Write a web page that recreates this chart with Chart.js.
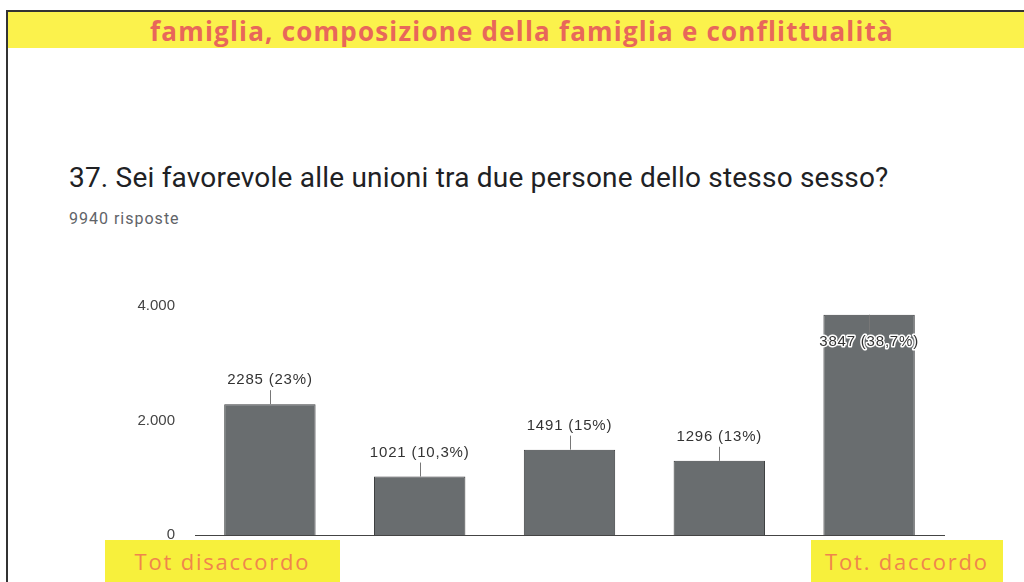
<!DOCTYPE html>
<html lang="it">
<head>
<meta charset="UTF-8">
<title>37. Sei favorevole alle unioni tra due persone dello stesso sesso?</title>
<script src="https://cdn.jsdelivr.net/npm/chart.js"></script>
<style>
    html, body {
        margin: 0;
        padding: 0;
        background: #fff;
        width: 1024px;
        height: 582px;
        overflow: hidden;
        position: relative;
        font-family: Roboto, Arial, sans-serif;
    }
    .frame {
        position: absolute;
        left: 6px;
        top: 10px;
        right: -2px;
        bottom: -2px;
        border-left: 2px solid #333;
        border-top: 2px solid #333;
    }
    .banner {
        position: absolute;
        left: 8px;
        top: 12px;
        width: 1016px;
        height: 36px;
        background: #fbf24c;
        text-align: center;
        white-space: nowrap;
    }
    .banner span {
        display: inline-block;
        font-family: "Open Sans", sans-serif;
        font-weight: bold;
        font-size: 26px;
        line-height: 38px;
        color: #e8675a;
        margin-left: 12px;
        letter-spacing: 1.2px;
    }
    h1 {
        position: absolute;
        left: 69px;
        top: 164px;
        margin: 0;
        font-weight: normal;
        font-size: 28px;
        line-height: 28px;
        letter-spacing: 0.2px;
        color: #202124;
        white-space: nowrap;
    }
    .sub {
        position: absolute;
        left: 69px;
        top: 211px;
        font-size: 16px;
        line-height: 16px;
        letter-spacing: 1px;
        color: #5f6368;
    }
    .tag {
        position: absolute;
        top: 540px;
        height: 42px;
        background: #f7f03c;
        color: #f0854c;
        font-family: "Open Sans", sans-serif;
        font-size: 22px;
        letter-spacing: 1.8px;
        line-height: 42px;
        text-align: center;
        white-space: nowrap;
    }
    #chart {
        position: absolute;
        left: 100px;
        top: 276px;
    }
</style>
</head>
<body>
<div class="frame"></div>
<div class="banner"><span>famiglia, composizione della famiglia e conflittualità</span></div>
<h1>37. Sei favorevole alle unioni tra due persone dello stesso sesso?</h1>
<div class="sub">9940 risposte</div>
<canvas id="chart" width="860" height="290"></canvas>
<div class="tag" style="left:105px;width:235px;">Tot disaccordo</div>
<div class="tag" style="left:811px;width:192px;">Tot. daccordo</div>

<script>
    const categories = ['1', '2', '3', '4', '5'];
    const values = [2285, 1021, 1491, 1296, 3847];
    const valueLabels = ['2285 (23%)', '1021 (10,3%)', '1491 (15%)', '1296 (13%)', '3847 (38,7%)'];
    const tickValues = [0, 2000, 4000];
    const tickLabels = ['0', '2.000', '4.000'];

    // etichette sopra le barre con la lineetta
    const barLabels = {
        id: 'barLabels',
        afterDatasetsDraw(chart) {
            const ctx = chart.ctx;
            const meta = chart.getDatasetMeta(0);
            ctx.save();
            ctx.font = '15px Arial, "Liberation Sans", sans-serif';
            ctx.letterSpacing = '0.8px';
            ctx.textAlign = 'center';
            ctx.textBaseline = 'middle';
            meta.data.forEach((bar, i) => {
                const x = bar.x;
                const top = bar.y;
                const inside = top - chart.chartArea.top < 40;
                let ty, l1, l2;
                if (inside) {
                    ty = top + 27;
                    l1 = top;
                    l2 = top + 18;
                } else {
                    ty = top - 24;
                    l1 = top - 14;
                    l2 = top;
                }
                ctx.strokeStyle = '#777';
                ctx.lineWidth = 1;
                ctx.beginPath();
                ctx.moveTo(Math.round(x) + 0.5, l1);
                ctx.lineTo(Math.round(x) + 0.5, l2);
                ctx.stroke();
                if (inside) {
                    ctx.strokeStyle = '#fff';
                    ctx.lineWidth = 3;
                    ctx.lineJoin = 'round';
                    ctx.strokeText(valueLabels[i], x, ty);
                }
                ctx.fillStyle = '#333';
                ctx.fillText(valueLabels[i], x, ty);
            });
            ctx.restore();
        }
    };

    new Chart(document.getElementById('chart'), {
        type: 'bar',
        data: {
            labels: categories,
            datasets: [{
                data: values,
                backgroundColor: '#696d6f',
                borderColor: '#3d3f40',
                borderWidth: 1,
                categoryPercentage: 1,
                barPercentage: 0.61
            }]
        },
        options: {
            responsive: false,
            animation: false,
            layout: { padding: { top: 30, right: 16, bottom: 31, left: 0 } },
            plugins: {
                legend: { display: false },
                tooltip: { enabled: false }
            },
            scales: {
                x: {
                    afterFit(scale) { scale.height = 0; },
                    ticks: { display: false },
                    grid: { display: false, drawTicks: false },
                    border: { display: true, color: '#444', width: 1 }
                },
                y: {
                    min: 0,
                    max: 4000,
                    afterFit(scale) { scale.width = 95; },
                    afterBuildTicks(scale) {
                        scale.ticks = tickValues.map(v => ({ value: v }));
                    },
                    ticks: {
                        padding: 20,
                        color: '#444',
                        font: { family: 'Arial, "Liberation Sans", sans-serif', size: 15 },
                        callback: (v) => tickLabels[tickValues.indexOf(v)]
                    },
                    grid: { display: false, drawTicks: false },
                    border: { display: false }
                }
            }
        },
        plugins: [barLabels]
    });
</script>
</body>
</html>
